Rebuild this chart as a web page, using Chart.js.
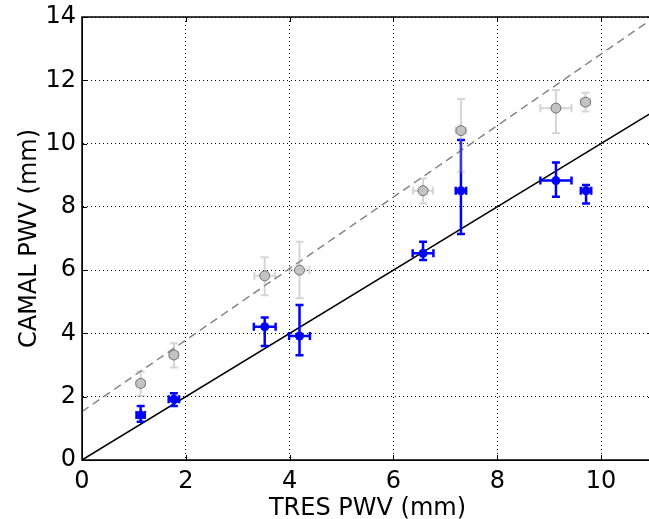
<!DOCTYPE html>
<html><head><meta charset="utf-8">
<script src="https://cdn.jsdelivr.net/npm/chart.js@4"></script>
<style>html,body{margin:0;padding:0;overflow:hidden;background:#fff}#wrap{width:660px;height:519px}</style>
</head><body><div id="wrap"><canvas id="c" width="660" height="519"></canvas></div>
<script>
// ---- data ----
const xTicks = [0, 2, 4, 6, 8, 10];
const yTicks = [0, 2, 4, 6, 8, 10, 12, 14];

const blueX = [1.13, 1.77, 3.52, 4.19, 6.57, 7.30, 9.13, 9.71];
const blueY = [1.42, 1.92, 4.21, 3.92, 6.53, 8.51, 8.83, 8.51];
const blueXErr = [0.08, 0.10, 0.21, 0.20, 0.20, 0.10, 0.30, 0.10];
const blueYErrUp = [0.29, 0.19, 0.29, 0.98, 0.37, 1.60, 0.57, 0.18];
const blueYErrDown = [0.21, 0.21, 0.61, 0.61, 0.21, 1.37, 0.51, 0.40];

const grayX = [1.13, 1.77, 3.52, 4.19, 6.57, 7.30, 9.13, 9.70];
const grayY = [2.42, 3.32, 5.82, 6.00, 8.51, 10.41, 11.12, 11.31];
const grayXErr = [0.08, 0.08, 0.20, 0.19, 0.19, 0.10, 0.30, 0.09];
const grayYErrUp = [0.37, 0.37, 0.59, 0.90, 0.39, 1.00, 0.57, 0.30];
const grayYErrDown = [0.40, 0.40, 0.61, 0.89, 0.40, 1.30, 0.79, 0.30];

const lineX = [0, 11];
const oneToOneY = [0, 11];
const fitY = [1.53, 13.96];

// ---- chart ----
const FONT = {family: 'DejaVu Sans', size: 24, lineHeight: 1.2};
const pts = (xs, ys) => xs.map((v, i) => ({x: v, y: ys[i]}));

const errorBars = {
  id: 'errorBars',
  beforeDatasetDraw(chart, args) {
    const ds = chart.data.datasets[args.index];
    const e = ds.err;
    if (!e) return;
    const sx = chart.scales.x, sy = chart.scales.y, c = chart.ctx;
    c.save();
    c.strokeStyle = e.color;
    c.lineWidth = e.width;
    c.beginPath();
    for (let i = 0; i < e.x.length; i++) {
      const px = sx.getPixelForValue(e.x[i]);
      const py = sy.getPixelForValue(e.y[i]);
      const x1 = sx.getPixelForValue(e.x[i] - e.xe[i]);
      const x2 = sx.getPixelForValue(e.x[i] + e.xe[i]);
      const yt = sy.getPixelForValue(e.y[i] + e.up[i]);
      const yb = sy.getPixelForValue(e.y[i] - e.dn[i]);
      const cap = e.cap;
      c.moveTo(x1, py); c.lineTo(x2, py);
      c.moveTo(px, yt); c.lineTo(px, yb);
      c.moveTo(x1, py - cap); c.lineTo(x1, py + cap);
      c.moveTo(x2, py - cap); c.lineTo(x2, py + cap);
      c.moveTo(px - cap, yt); c.lineTo(px + cap, yt);
      c.moveTo(px - cap, yb); c.lineTo(px + cap, yb);
    }
    c.stroke();
    c.restore();
  }
};

const frame = {
  id: 'frame',
  afterDatasetsDraw(chart) {
    const {left, right, top, bottom} = chart.chartArea;
    const c = chart.ctx;
    const sx = chart.scales.x, sy = chart.scales.y;
    c.save();
    c.strokeStyle = '#000';
    c.lineWidth = 1;
    c.beginPath();
    xTicks.forEach(v => {
      const p = Math.round(sx.getPixelForValue(v)) + 0.5;
      c.moveTo(p, bottom); c.lineTo(p, bottom - 5);
      c.moveTo(p, top); c.lineTo(p, top + 5);
    });
    yTicks.forEach(v => {
      const p = Math.round(sy.getPixelForValue(v)) + 0.5;
      c.moveTo(left, p); c.lineTo(left + 5, p);
      c.moveTo(right, p); c.lineTo(right - 5, p);
    });
    c.stroke();
    c.lineWidth = 1.5;
    c.strokeRect(left, top, right - left, bottom - top);
    c.restore();
  }
};

new Chart(document.getElementById('c'), {
  type: 'scatter',
  data: {
    datasets: [
      {
        label: 'gray', order: 1,
        data: pts(grayX, grayY),
        backgroundColor: 'rgba(195,195,195,1)',
        borderColor: 'rgba(90,90,90,0.8)',
        borderWidth: 1, pointRadius: 5,
        err: {x: grayX, y: grayY, xe: grayXErr, up: grayYErrUp, dn: grayYErrDown,
              color: 'rgba(150,150,150,0.4)', width: 2, cap: 4}
      },
      {
        label: 'blue', order: 2,
        data: pts(blueX, blueY),
        backgroundColor: '#0000ff', borderColor: '#0000ff',
        borderWidth: 0, pointRadius: 4.5,
        err: {x: blueX, y: blueY, xe: blueXErr, up: blueYErrUp, dn: blueYErrDown,
              color: '#0000ff', width: 2.5, cap: 4}
      },
      {
        label: 'one', order: 3, type: 'line',
        data: pts(lineX, oneToOneY),
        borderColor: '#000', borderWidth: 1.5, pointRadius: 0, fill: false
      },
      {
        label: 'fit', order: 4, type: 'line',
        data: pts(lineX, fitY),
        borderColor: '#808080', borderWidth: 1.4, borderDash: [8, 5], pointRadius: 0, fill: false
      }
    ]
  },
  options: {
    responsive: false,
    animation: false,
    devicePixelRatio: 1,
    layout: {padding: {left: 0, right: 7, top: 17, bottom: 0}},
    plugins: {legend: {display: false}, tooltip: {enabled: false}},
    scales: {
      x: {
        type: 'linear', min: 0, max: 11,
        afterBuildTicks: s => { s.ticks = xTicks.map(v => ({value: v})); },
        afterFit: s => { s.height = 59; s.paddingLeft = 0; s.paddingRight = 0; },
        ticks: {font: FONT, color: '#000', padding: 7, maxRotation: 0},
        grid: {color: '#000', lineWidth: 1, drawTicks: false},
        border: {display: true, color: '#000', width: 1, dash: [1, 3]},
        title: {display: true, text: 'TRES PWV (mm)', font: FONT, color: '#000', padding: {top: 0, bottom: -4}}
      },
      y: {
        type: 'linear', min: 0, max: 14,
        afterBuildTicks: s => { s.ticks = yTicks.map(v => ({value: v})); },
        afterFit: s => { s.width = 82; s.paddingTop = 0; s.paddingBottom = 0; },
        ticks: {font: FONT, color: '#000', padding: 6},
        grid: {color: '#000', lineWidth: 1, drawTicks: false},
        border: {display: true, color: '#000', width: 1, dash: [1, 3]},
        title: {display: true, text: 'CAMAL PWV (mm)', font: FONT, color: '#000', padding: {top: 15, bottom: 0}}
      }
    }
  },
  plugins: [errorBars, frame]
});
</script>
</body></html>
